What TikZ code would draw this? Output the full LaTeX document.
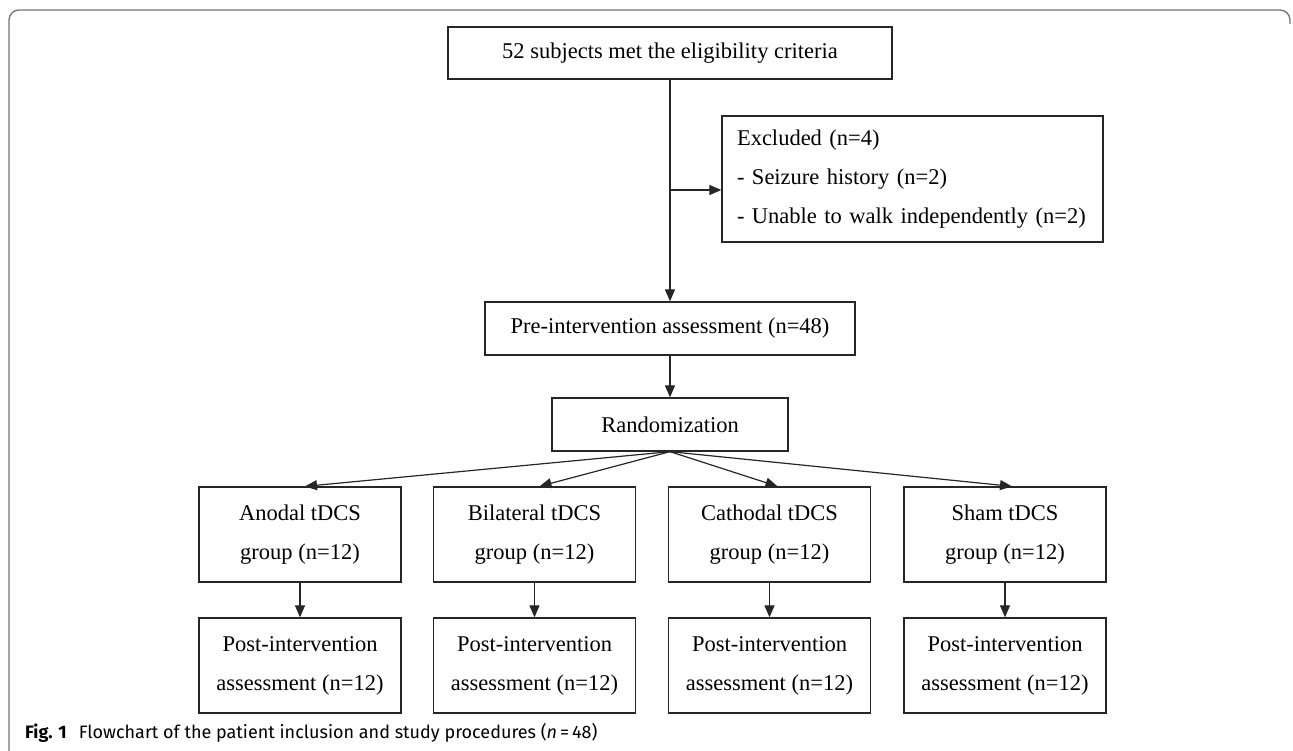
\documentclass[tikz,border=0pt]{standalone}
\usepackage{fontspec}
\setmainfont{Liberation Serif}
\newfontfamily\capfont{Fira Sans}
\usetikzlibrary{arrows.meta}
\begin{document}
\begin{tikzpicture}[x=1pt,y=-1pt,
  box/.style={draw=black!85,line width=1.3pt,inner sep=0pt,align=center,
    font=\fontsize{22.5}{39}\selectfont},
  conn/.style={draw=black!85,line width=1.2pt},
  arr/.style={conn,-{Triangle[length=12pt,width=10pt]}},
  frame/.style={draw=black!55,line width=1.3pt,rounded corners=10pt}]
\useasboundingbox (0,0) rectangle (1293,751);
\draw[frame] (9,751) -- (9,10) -- (1290,10) -- (1290,24);

\node[box,minimum width=444pt,minimum height=52pt] (top) at (670,53) {52 subjects met the eligibility criteria};
\node[box,minimum width=381pt,minimum height=126pt,text width=351pt,align=left,inner xsep=15pt] (excl) at (912.5,179)
  {Excluded (n=4)\\- Seizure history (n=2)\\- Unable to walk independently (n=2)};
\node[box,minimum width=370pt,minimum height=53pt] (pre) at (670,328.5) {Pre-intervention assessment (n=48)};
\node[box,minimum width=236pt,minimum height=53pt] (rand) at (670,424.5) {Randomization};

\node[box,minimum width=202pt,minimum height=95pt] (g1) at (300,534.5) {Anodal tDCS\\group (n=12)};
\node[box,minimum width=202pt,minimum height=95pt] (g2) at (534.5,534.5) {Bilateral tDCS\\group (n=12)};
\node[box,minimum width=202pt,minimum height=95pt] (g3) at (769.5,534.5) {Cathodal tDCS\\group (n=12)};
\node[box,minimum width=202pt,minimum height=95pt] (g4) at (1005,534.5) {Sham tDCS\\group (n=12)};

\node[box,minimum width=202pt,minimum height=95pt] (p1) at (300,665.5) {Post-intervention\\assessment (n=12)};
\node[box,minimum width=202pt,minimum height=95pt] (p2) at (534.5,665.5) {Post-intervention\\assessment (n=12)};
\node[box,minimum width=202pt,minimum height=95pt] (p3) at (769.5,665.5) {Post-intervention\\assessment (n=12)};
\node[box,minimum width=202pt,minimum height=95pt] (p4) at (1005,665.5) {Post-intervention\\assessment (n=12)};

\coordinate (br) at (670,190);
\draw[arr] (top.south) -- (pre.north);
\draw[arr] (br) -- (br -| excl.west);
\draw[arr] (pre.south) -- (rand.north);
\draw[arr] (rand.south) -- ([xshift=5pt]g1.north);
\draw[arr] (rand.south) -- ([xshift=5pt]g2.north);
\draw[arr] (rand.south) -- ([xshift=8pt]g3.north);
\draw[arr] (rand.south) -- ([xshift=7pt]g4.north);
\foreach \i in {1,2,3,4} \draw[arr] (g\i.south) -- (p\i.north);

\node[anchor=west,inner sep=0pt,font=\capfont\fontsize{18}{21}\selectfont] (cap) at (25,733)
  {\textbf{Fig. 1}\hspace{12pt}Flowchart of the patient inclusion and study procedures (\textit{n}\,=\,48)};
\end{tikzpicture}
\end{document}
